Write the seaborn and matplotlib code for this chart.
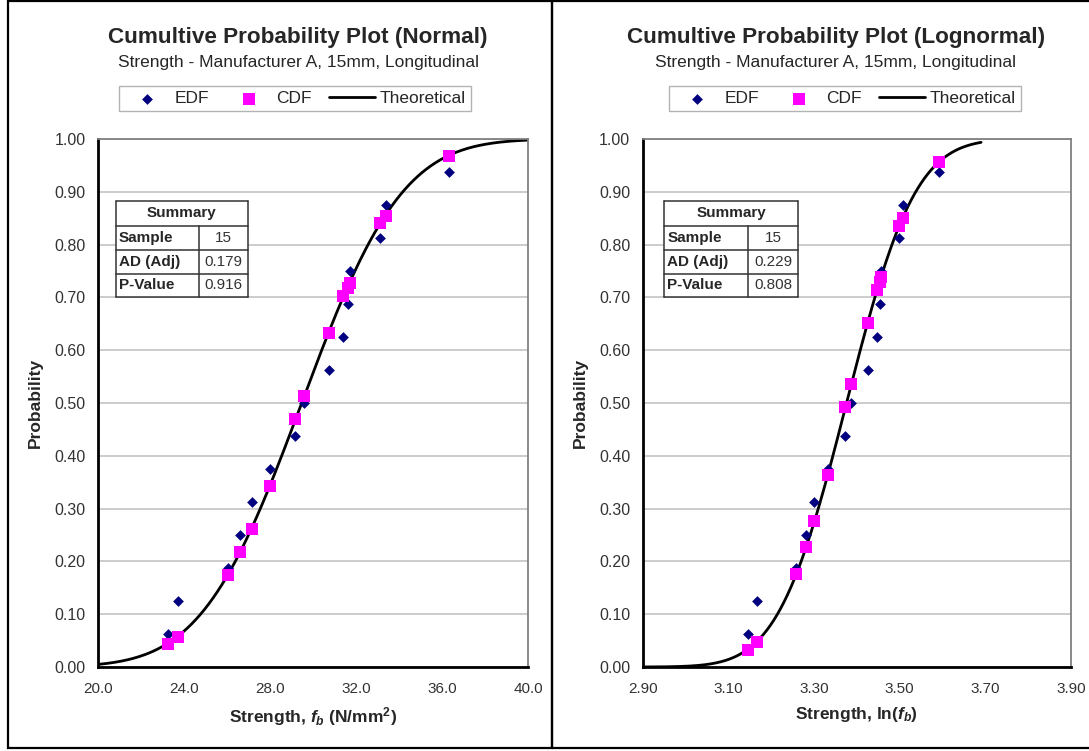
import math
import numpy as np
import pandas as pd
import seaborn as sns
import matplotlib
matplotlib.use("Agg")
import matplotlib.pyplot as plt
from matplotlib.patches import Rectangle
from matplotlib.lines import Line2D

# ---------------- data ----------------
strength = [23.23, 23.72, 26.02, 26.60, 27.15, 27.99, 29.16, 29.58,
            30.72, 31.40, 31.60, 31.70, 33.10, 33.37, 36.30]
ln_strength = [3.145, 3.166, 3.259, 3.281, 3.301, 3.332, 3.373, 3.387,
               3.425, 3.447, 3.453, 3.456, 3.4995, 3.5076, 3.592]
edf = [0.0625, 0.125, 0.1875, 0.25, 0.3125, 0.375, 0.4375, 0.5,
       0.5625, 0.625, 0.6875, 0.75, 0.8125, 0.875, 0.9375]
cdf_normal = [0.044, 0.057, 0.174, 0.218, 0.262, 0.343, 0.469, 0.513,
              0.633, 0.703, 0.718, 0.728, 0.840, 0.855, 0.968]
cdf_lognormal = [0.032, 0.047, 0.177, 0.228, 0.277, 0.363, 0.492, 0.536,
                 0.651, 0.714, 0.730, 0.738, 0.835, 0.850, 0.956]
# fitted parameters of the theoretical curves
normal_mu, normal_sd = 29.46, 3.67
lognormal_mu, lognormal_sd = 3.376, 0.126
normal_range = (20.0, 40.0)
lognormal_range = (2.90, 3.69)

summary_rows = ["Sample", "AD (Adj)", "P-Value"]
summary_normal = ["15", "0.179", "0.916"]
summary_lognormal = ["15", "0.229", "0.808"]

titles = ["Cumultive Probability Plot (Normal)", "Cumultive Probability Plot (Lognormal)"]
subtitle = "Strength - Manufacturer A, 15mm, Longitudinal"
legend_labels = ["EDF", "CDF", "Theoretical"]

# ---------------- style ----------------
sns.set_style("white")
plt.rcParams["font.family"] = ["Liberation Sans", "DejaVu Sans"]
plt.rcParams["mathtext.fontset"] = "custom"
plt.rcParams["mathtext.rm"] = "Liberation Sans:bold"
plt.rcParams["mathtext.it"] = "Liberation Sans:bold:italic"
plt.rcParams["mathtext.bf"] = "Liberation Sans:bold"

W, H = 1089, 751
fig = plt.figure(figsize=(W / 100, H / 100), dpi=100)
fig.patch.set_facecolor("white")


def fx(px):
    return px / W


def fy(py):
    return 1 - py / H


def norm_cdf(x, mu, sd):
    return 0.5 * (1 + math.erf((x - mu) / (sd * math.sqrt(2))))


# panel borders
fig.add_artist(Rectangle((fx(8), fy(748)), fx(552) - fx(8), fy(1) - fy(748),
                         transform=fig.transFigure, fill=False, edgecolor="black", lw=1.6))
fig.add_artist(Rectangle((fx(552), fy(748)), fx(1130) - fx(552), fy(1) - fy(748),
                         transform=fig.transFigure, fill=False, edgecolor="black", lw=1.6))

EDF_COLOR = "#000080"
CDF_COLOR = "#FF00FF"

panels = [
    dict(ax_px=(98.3, 528.3), x=strength, cdf=cdf_normal, mu=normal_mu, sd=normal_sd,
         rng=normal_range, xlim=(20, 40), xticks=np.arange(20, 40.01, 4),
         xfmt="{:.1f}", xlabel=r"Strength, $f_b$ (N/mm$^2$)", title=titles[0],
         tcx=298, lgx=295, ylab_x=43, table=(115.7, 199, 247.7), summ=summary_normal),
    dict(ax_px=(642.7, 1071.0), x=ln_strength, cdf=cdf_lognormal, mu=lognormal_mu,
         sd=lognormal_sd, rng=lognormal_range, xlim=(2.9, 3.9),
         xticks=np.arange(2.9, 3.901, 0.2), xfmt="{:.2f}",
         xlabel=r"Strength, ln($f_b$)", title=titles[1], tcx=836, lgx=845,
         ylab_x=588, table=(664.3, 747.7, 798.3), summ=summary_lognormal),
]

ax_top, ax_bot = 139, 667

for p in panels:
    l, r = p["ax_px"]
    ax = fig.add_axes([fx(l), fy(ax_bot), fx(r) - fx(l), fy(ax_top) - fy(ax_bot)])

    xs = np.linspace(p["rng"][0], p["rng"][1], 300)
    ys = [norm_cdf(v, p["mu"], p["sd"]) for v in xs]
    curve = pd.DataFrame({"x": xs, "y": ys})
    pts = pd.DataFrame({"x": p["x"], "edf": edf, "cdf": p["cdf"]})

    sns.lineplot(data=curve, x="x", y="y", ax=ax, color="black", lw=2.0,
                 zorder=2, label="Theoretical")
    sns.scatterplot(data=pts, x="x", y="edf", ax=ax, marker="D", s=30,
                    color=EDF_COLOR, edgecolor=EDF_COLOR, linewidth=0, zorder=3, label="EDF")
    sns.scatterplot(data=pts, x="x", y="cdf", ax=ax, marker="s", s=66,
                    color=CDF_COLOR, edgecolor=CDF_COLOR, linewidth=0, zorder=4, label="CDF")

    ax.set_xlim(*p["xlim"])
    ax.set_ylim(0, 1)
    ax.set_xticks(p["xticks"])
    ax.set_xticklabels([p["xfmt"].format(v) for v in p["xticks"]],
                       fontsize=11, color="#333333", fontstretch="condensed")
    yt = np.arange(0, 1.001, 0.1)
    ax.set_yticks(yt)
    ax.set_yticklabels(["{:.2f}".format(v) for v in yt], fontsize=11.5, color="#333333")
    ax.yaxis.grid(True, color="#c8c8c8", lw=1.3)
    ax.xaxis.grid(False)
    ax.set_axisbelow(True)
    for s in ["left", "bottom"]:
        ax.spines[s].set_color("black")
        ax.spines[s].set_linewidth(2.0)
    for s in ["top", "right"]:
        ax.spines[s].set_color("#808080")
        ax.spines[s].set_linewidth(1.3)
    ax.tick_params(axis="both", direction="out", length=4, width=1.5, color="black",
                   pad=5)
    ax.tick_params(axis="x", pad=7)

    ax.set_xlabel(p["xlabel"], fontsize=12.5, fontweight="bold")
    ax.set_ylabel("Probability", fontsize=12.5, fontweight="bold")
    ax.xaxis.set_label_coords(0.5, (ax_bot - 705) / (ax_bot - ax_top))
    ax.yaxis.set_label_coords((p["ylab_x"] - l) / (r - l), 0.5)

    # legend
    handles, labels = ax.get_legend_handles_labels()
    order = [labels.index(t) for t in legend_labels]
    leg = ax.legend([handles[i] for i in order], [labels[i] for i in order],
                    loc="center", bbox_to_anchor=(fx(p["lgx"]), fy(98.5)),
                    bbox_transform=fig.transFigure, ncol=3, frameon=True,
                    fancybox=False, edgecolor="#a0a0a0", fontsize=12.5,
                    handlelength=2.6, handletextpad=0.3, columnspacing=1.0,
                    borderpad=0.3)
    leg.get_frame().set_linewidth(1.0)

    # titles
    fig.text(fx(p["tcx"]), fy(38), p["title"], ha="center", va="center",
             fontsize=16.2, fontweight="bold")
    fig.text(fx(p["tcx"]), fy(62), subtitle, ha="center", va="center", fontsize=12.5)

    # summary table
    x0, xm, x1 = p["table"]
    rows_y = [201, 226, 250, 273.5, 297.3]
    fig.patches.append(Rectangle((fx(x0), fy(rows_y[-1])), fx(x1) - fx(x0),
                                 fy(rows_y[0]) - fy(rows_y[-1]),
                                 transform=fig.transFigure, facecolor="white",
                                 edgecolor="none", zorder=0.5))
    for yy in rows_y:
        fig.add_artist(Line2D([fx(x0), fx(x1)], [fy(yy), fy(yy)],
                              transform=fig.transFigure, color="#333333", lw=1.1))
    for xx in [x0, x1]:
        fig.add_artist(Line2D([fx(xx), fx(xx)], [fy(rows_y[0]), fy(rows_y[-1])],
                              transform=fig.transFigure, color="#333333", lw=1.1))
    fig.add_artist(Line2D([fx(xm), fx(xm)], [fy(rows_y[1]), fy(rows_y[-1])],
                          transform=fig.transFigure, color="#333333", lw=1.1))
    fig.text(fx((x0 + x1) / 2), fy((rows_y[0] + rows_y[1]) / 2), "Summary",
             ha="center", va="center", fontsize=11, fontweight="bold", zorder=5)
    for i, (lab, val) in enumerate(zip(summary_rows, p["summ"])):
        yc = (rows_y[i + 1] + rows_y[i + 2]) / 2
        fig.text(fx(x0 + 3), fy(yc), lab, ha="left", va="center", fontsize=11,
                 fontweight="bold", zorder=5)
        fig.text(fx((xm + x1) / 2), fy(yc), val, ha="center", va="center",
                 fontsize=11, color="#333333", zorder=5)

fig.savefig("out.png", dpi=100, facecolor="white")
